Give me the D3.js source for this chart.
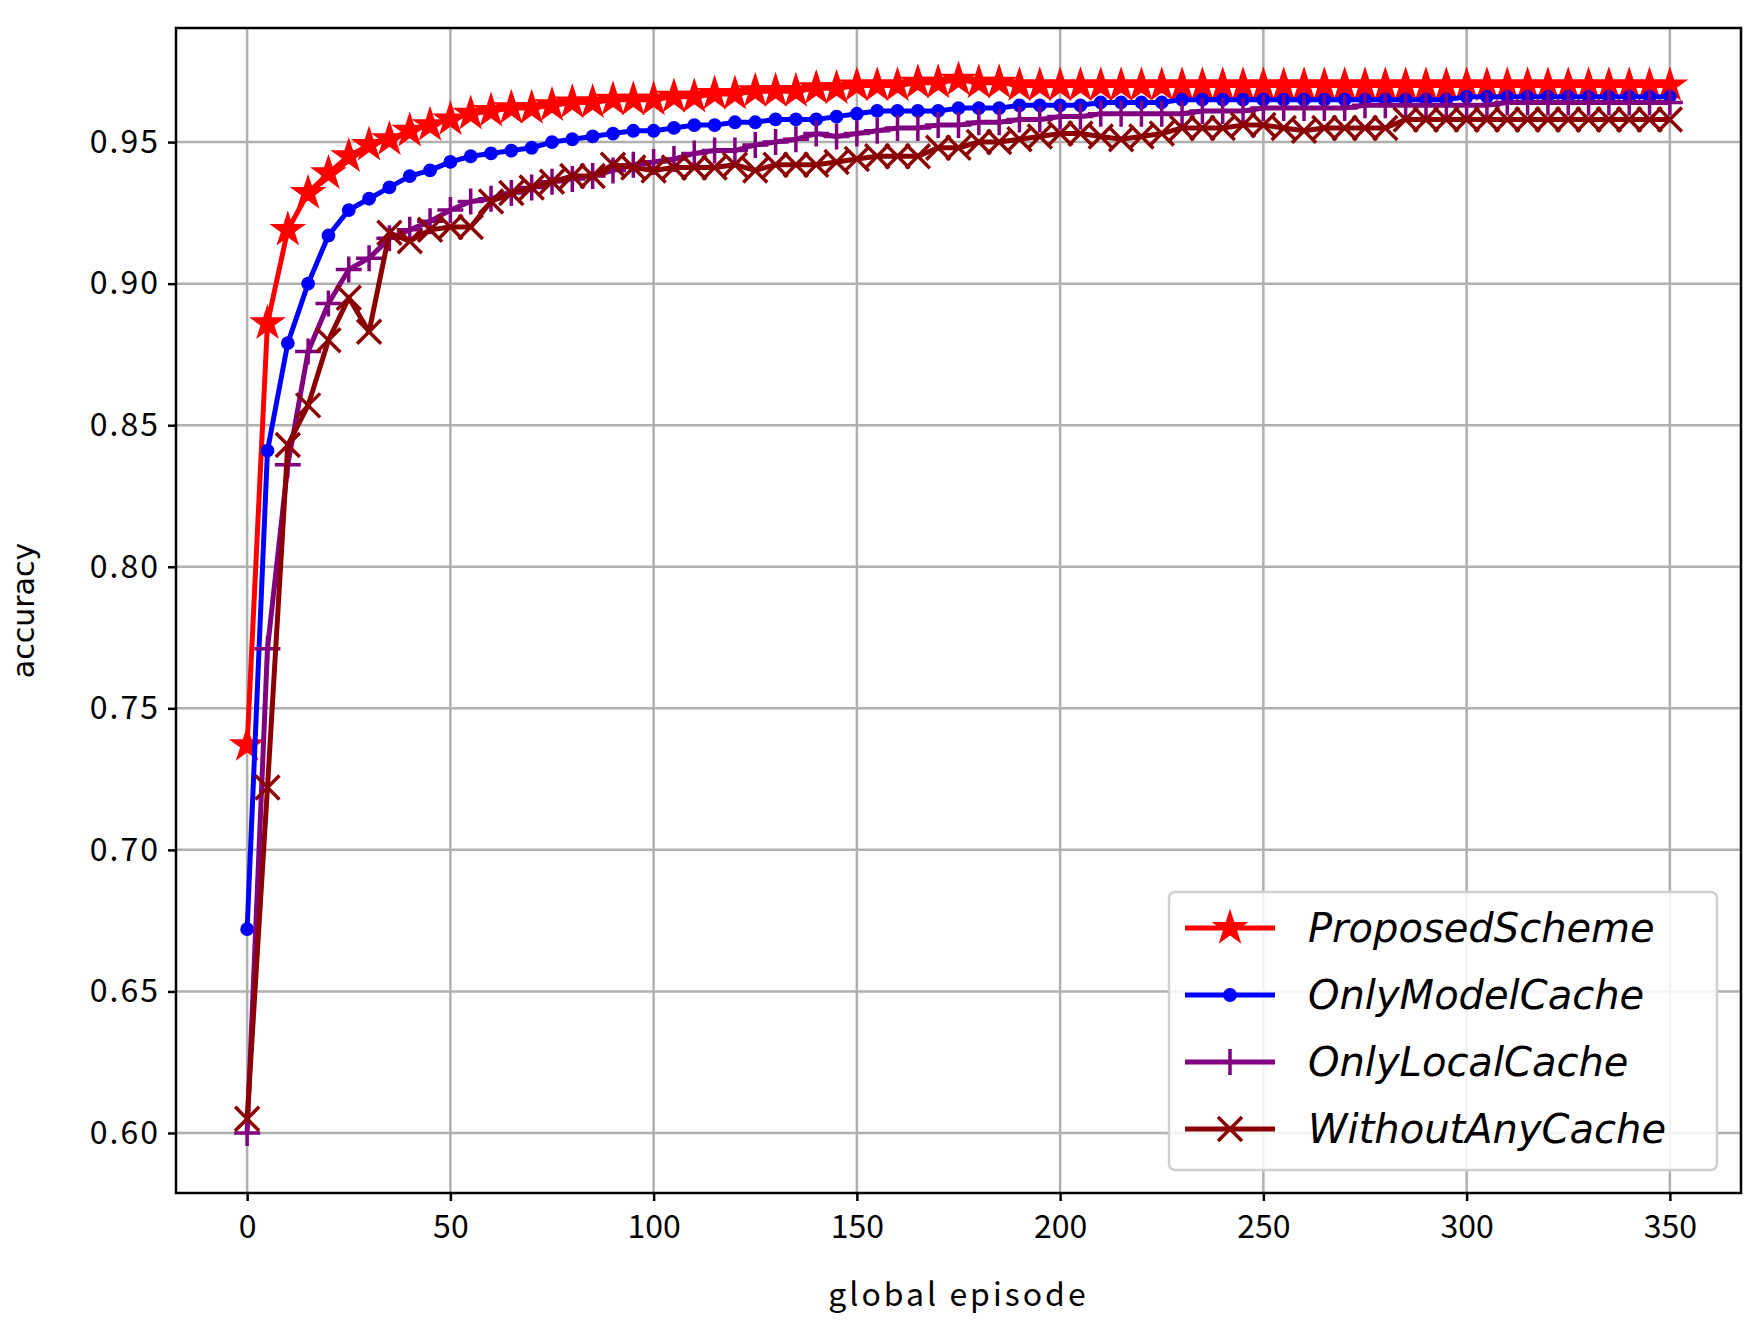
<!DOCTYPE html>
<html>
<head>
<meta charset="utf-8">
<script src="https://cdn.jsdelivr.net/npm/d3@7"></script>
<style>
  body { margin: 0; background: #fff; }
  .tick text { font-family: "Noto Sans CJK SC", sans-serif; }
</style>
</head>
<body>
<svg id="chart" width="1750" height="1330"></svg>
<script>
// episodes 0..350 step 5
const episodes = d3.range(0, 351, 5);

const proposed = [0.737,0.886,0.919,0.932,0.939,0.945,0.949,0.951,0.954,0.956,0.958,0.960,0.961,0.962,0.962,0.963,0.964,0.964,0.965,0.965,
  0.965,0.966,0.966,0.967,0.967,0.968,0.968,0.968,0.969,0.969,0.970,0.970,0.970,0.971,0.971,0.972,0.971,0.971,0.970,0.970,
  0.970,0.970,0.970,0.970,0.970,0.970,0.970,0.970,0.970,0.970,0.970,0.970,0.970,0.970,0.970,0.970,0.970,0.970,0.970,0.970,
  0.970,0.970,0.970,0.970,0.970,0.970,0.970,0.970,0.970,0.970,0.970];
const onlyModel = [0.672,0.841,0.879,0.900,0.917,0.926,0.930,0.934,0.938,0.940,0.943,0.945,0.946,0.947,0.948,0.950,0.951,0.952,0.953,0.954,
  0.954,0.955,0.956,0.956,0.957,0.957,0.958,0.958,0.958,0.959,0.960,0.961,0.961,0.961,0.961,0.962,0.962,0.962,0.963,0.963,
  0.963,0.963,0.964,0.964,0.964,0.964,0.965,0.965,0.965,0.965,0.965,0.965,0.965,0.965,0.965,0.965,0.965,0.965,0.965,0.965,
  0.966,0.966,0.966,0.966,0.966,0.966,0.966,0.966,0.966,0.966,0.966];
const onlyLocal = [0.600,0.771,0.836,0.876,0.893,0.905,0.909,0.916,0.919,0.922,0.926,0.929,0.930,0.932,0.934,0.936,0.937,0.938,0.940,0.942,
  0.943,0.944,0.946,0.947,0.947,0.949,0.950,0.951,0.953,0.952,0.953,0.954,0.955,0.955,0.956,0.956,0.957,0.957,0.958,0.958,
  0.959,0.959,0.960,0.960,0.960,0.960,0.960,0.961,0.961,0.961,0.962,0.962,0.962,0.962,0.962,0.963,0.963,0.963,0.963,0.963,
  0.963,0.963,0.964,0.964,0.964,0.964,0.964,0.964,0.964,0.964,0.964];
const withoutCache = [0.605,0.722,0.843,0.857,0.880,0.895,0.883,0.918,0.915,0.919,0.920,0.920,0.929,0.932,0.934,0.936,0.938,0.938,0.942,0.941,
  0.940,0.941,0.941,0.941,0.942,0.940,0.942,0.942,0.942,0.943,0.944,0.945,0.945,0.945,0.948,0.948,0.950,0.950,0.951,0.952,
  0.953,0.953,0.952,0.951,0.952,0.953,0.955,0.955,0.955,0.956,0.956,0.955,0.954,0.955,0.955,0.955,0.955,0.958,0.958,0.958,
  0.958,0.958,0.958,0.958,0.958,0.958,0.958,0.958,0.958,0.958,0.958];

const seriesNames = ["ProposedScheme", "OnlyModelCache", "OnlyLocalCache", "WithoutAnyCache"];
const seriesValues = [proposed, onlyModel, onlyLocal, withoutCache];
const seriesColors = ["#ff0000", "#0000ff", "#800080", "#8b0000"];
const seriesMarkers = ["star", "circle", "plus", "cross"];
const xTicks = [0, 50, 100, 150, 200, 250, 300, 350];
const yTicks = [0.60, 0.65, 0.70, 0.75, 0.80, 0.85, 0.90, 0.95];

const pLeft = 176, pRight = 1741, pTop = 28, pBottom = 1193;
const svg = d3.select("#chart");

const x = d3.scaleLinear().domain([-17.5, 367.5]).range([pLeft, pRight]);
const y = d3.scaleLinear().domain([0.5788, 0.9903]).range([pBottom, pTop]);

// grille
svg.append("g").selectAll("line").data(xTicks).join("line")
  .attr("x1", d => x(d)).attr("x2", d => x(d)).attr("y1", pTop).attr("y2", pBottom)
  .attr("stroke", "#b0b0b0").attr("stroke-width", 2.5);
svg.append("g").selectAll("line").data(yTicks).join("line")
  .attr("y1", d => y(d)).attr("y2", d => y(d)).attr("x1", pLeft).attr("x2", pRight)
  .attr("stroke", "#b0b0b0").attr("stroke-width", 2.5);

// axes
const xAxis = svg.append("g").attr("transform", `translate(0,${pBottom})`)
  .call(d3.axisBottom(x).tickValues(xTicks).tickSize(8).tickPadding(8));
const yAxis = svg.append("g").attr("transform", `translate(${pLeft},0)`)
  .call(d3.axisLeft(y).tickValues(yTicks).tickFormat(d3.format(".2f")).tickSize(8).tickPadding(8));
[xAxis, yAxis].forEach(a => {
  a.select(".domain").remove();
  a.selectAll(".tick line").attr("stroke", "#000").attr("stroke-width", 2.5);
  a.selectAll(".tick text").attr("font-size", 32).attr("fill", "#000");
});
xAxis.selectAll(".tick text").attr("dy", "0.9em");
yAxis.selectAll(".tick text").attr("letter-spacing", 2);

// lignes + marqueurs
const line = d3.line().x((d, i) => x(episodes[i])).y(d => y(d));
const star = d3.symbol().type(d3.symbolStar).size(420)();
const circle = d3.symbol().type(d3.symbolCircle).size(150)();

function drawMarker(g, type, color) {
  if (type === "star") g.append("path").attr("d", star).attr("fill", color);
  else if (type === "circle") g.append("path").attr("d", circle).attr("fill", color);
  else if (type === "plus") g.append("path").attr("d", "M-13,0H13M0,-13V13").attr("stroke", color).attr("stroke-width", 3.5);
  else g.append("path").attr("d", "M-12,-12L12,12M-12,12L12,-12").attr("stroke", color).attr("stroke-width", 3.5);
}

seriesValues.forEach((vals, s) => {
  const g = svg.append("g");
  g.append("path").datum(vals).attr("d", line).attr("fill", "none")
    .attr("stroke", seriesColors[s]).attr("stroke-width", 5).attr("stroke-linejoin", "round");
  vals.forEach((v, i) => {
    const m = g.append("g").attr("transform", `translate(${x(episodes[i])},${y(v)})`);
    drawMarker(m, seriesMarkers[s], seriesColors[s]);
  });
});

// cadre
svg.append("rect").attr("x", pLeft).attr("y", pTop).attr("width", pRight - pLeft).attr("height", pBottom - pTop)
  .attr("fill", "none").attr("stroke", "#000").attr("stroke-width", 2.5);

// titres des axes
svg.append("text").attr("x", (pLeft + pRight) / 2).attr("y", 1306).attr("text-anchor", "middle")
  .attr("font-family", "Noto Sans CJK SC").attr("font-size", 32).attr("letter-spacing", 3).text("global episode");
svg.append("text").attr("transform", `translate(34,${(pTop + pBottom) / 2}) rotate(-90)`).attr("text-anchor", "middle")
  .attr("font-family", "DejaVu Sans").attr("font-size", 30).text("accuracy");

// légende
const lg = svg.append("g").attr("transform", "translate(1169,892)");
lg.append("rect").attr("width", 548).attr("height", 278).attr("rx", 6)
  .attr("fill", "#fff").attr("fill-opacity", 0.85).attr("stroke", "#d0d0d0").attr("stroke-width", 2.5);
seriesNames.forEach((name, i) => {
  const yy = 36 + i * 67;
  lg.append("line").attr("x1", 16).attr("x2", 106).attr("y1", yy).attr("y2", yy)
    .attr("stroke", seriesColors[i]).attr("stroke-width", 5);
  drawMarker(lg.append("g").attr("transform", `translate(61,${yy})`), seriesMarkers[i], seriesColors[i]);
  lg.append("text").attr("x", 139).attr("y", yy + 14).attr("font-family", "DejaVu Sans")
    .attr("font-style", "italic").attr("font-size", 40).text(name);
});
</script>
</body>
</html>
